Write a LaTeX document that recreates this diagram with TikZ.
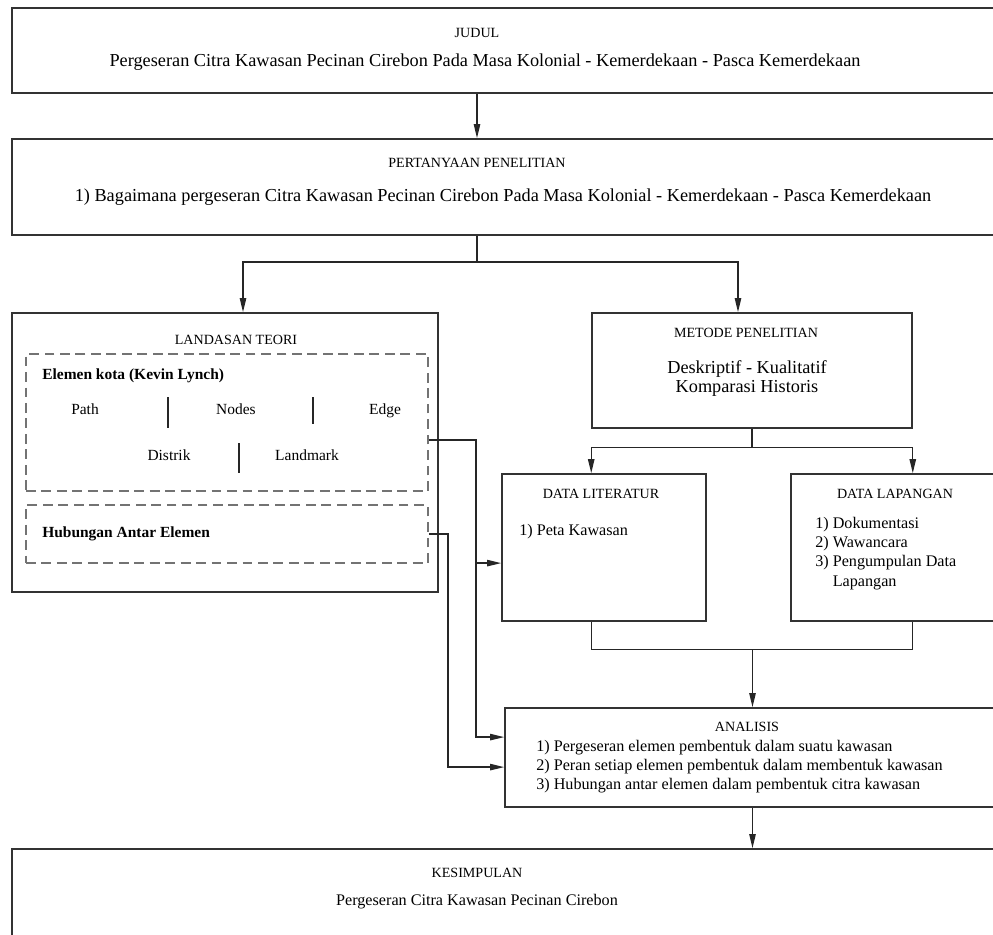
\documentclass[tikz,border=0pt]{standalone}
\usepackage{fontspec}
\setmainfont{Liberation Serif}
\usetikzlibrary{arrows.meta}

\tikzset{
	kotak/.style 2 args={shape=rectangle, draw=black!80, line width=1.1pt, minimum width=#1*0.025cm, minimum height=#2*0.025cm, inner sep=0pt},
	putus/.style 2 args={kotak={#1}{#2}, draw=black!55, line width=1.3pt, dash pattern=on 7pt off 4pt},
	kepala/.style={font=\fontsize{10}{12}\selectfont, inner sep=0pt},
	besar/.style={font=\fontsize{13}{13.6}\selectfont, inner sep=0pt, align=center},
	sedang/.style={font=\fontsize{11.5}{13.6}\selectfont, inner sep=0pt, align=left},
	elemen/.style={font=\fontsize{11}{13}\selectfont, inner sep=0pt},
	panah/.style={-{Triangle[length=10pt,width=4.5pt]}, line width=1pt, draw=black!85},
	garis/.style={line width=1pt, draw=black!85},
}

\begin{document}
\begin{tikzpicture}[x=0.025cm, y=-0.025cm]
	\useasboundingbox (0,0) rectangle (993,934);
	
	\node[kotak={988}{85}] (judul) at (506, 50.5) {};
	\node[kotak={988}{96}] (tanya) at (506, 187) {};
	\node[kotak={426}{279}] (landasan) at (225, 452.5) {};
	\node[putus={402}{137}] (elemen) at (227, 422.5) {};
	\node[putus={402}{58}] (hubungan) at (227, 534) {};
	\node[kotak={320}{115}] (metode) at (752, 370.5) {};
	\node[kotak={204}{147}] (datalit) at (604, 547.5) {};
	\node[kotak={209}{147}] (datalap) at (895.5, 547.5) {};
	\node[kotak={495}{99}] (analisis) at (752.5, 757.5) {};
	\node[kotak={988}{96}] (kesimpulan) at (506, 897) {};
	
	\node[kepala] (hjudul) at (477, 33) {JUDUL};
	\node[besar] (tjudul) at (485, 62) {Pergeseran Citra Kawasan Pecinan Cirebon Pada Masa Kolonial - Kemerdekaan - Pasca Kemerdekaan};
	\node[kepala] (htanya) at (477, 163) {PERTANYAAN PENELITIAN};
	\node[besar] (ttanya) at (503, 197) {1) Bagaimana pergeseran Citra Kawasan Pecinan Cirebon Pada Masa Kolonial - Kemerdekaan - Pasca Kemerdekaan};
	\node[kepala] (hlandasan) at (236, 340) {LANDASAN TEORI};
	\node[elemen, font=\fontsize{11}{13}\bfseries, anchor=west] (telemen) at (42, 376) {Elemen kota (Kevin Lynch)};
	\node[elemen] (path) at (85, 409) {Path};
	\node[elemen] (nodes) at (236, 409) {Nodes};
	\node[elemen] (edge) at (385, 411) {Edge};
	\node[elemen] (distrik) at (169, 455) {Distrik};
	\node[elemen] (landmark) at (307, 455) {Landmark};
	\node[elemen, font=\fontsize{11}{13}\bfseries, anchor=west] (thubungan) at (42, 534) {Hubungan Antar Elemen};
	\node[kepala] (hmetode) at (746, 333) {METODE PENELITIAN};
	\node[besar] (tmetode) at (747, 378.5) {Deskriptif - Kualitatif\\Komparasi Historis};
	\node[kepala] (hdatalit) at (601, 494) {DATA LITERATUR};
	\node[sedang, anchor=west] (tdatalit) at (519, 532) {1) Peta Kawasan};
	\node[kepala] (hdatalap) at (895, 494) {DATA LAPANGAN};
	\node[sedang, anchor=west] (tdatalap) at (815, 553.5) {1) Dokumentasi\\2) Wawancara\\3) Pengumpulan Data\\\phantom{3)~}Lapangan};
	\node[kepala] (hanalisis) at (747, 727) {ANALISIS};
	\node[sedang, anchor=west] (tanalisis) at (536, 766.5) {1) Pergeseran elemen pembentuk dalam suatu kawasan\\2) Peran setiap elemen pembentuk dalam membentuk kawasan\\3) Hubungan antar elemen dalam pembentuk citra kawasan};
	\node[kepala] (hkesimpulan) at (477, 873) {KESIMPULAN};
	\node[sedang] (tkesimpulan) at (477, 902) {Pergeseran Citra Kawasan Pecinan Cirebon};
	
	\draw[garis] (168, 397) -- (168, 428);
	\draw[garis] (313, 397) -- (313, 424);
	\draw[garis] (239, 443) -- (239, 473);
	
	\coordinate (cabang1) at (477, 262);
	\coordinate (keluar1) at ([yshift=-0.44cm]elemen.east);
	\coordinate (masuk1) at ([yshift=0.51cm]analisis.west);
	\coordinate (masuk2) at ([yshift=-0.24cm]analisis.west);
	\coordinate (masuklit) at ([yshift=-0.39cm]datalit.west);
	
	\draw[panah] (hjudul |- judul.south) -- (hjudul |- tanya.north);
	\draw[garis] (htanya |- tanya.south) -- (cabang1);
	\draw[panah] (cabang1) -| ([xshift=0.45cm]landasan.north);
	\draw[panah] (cabang1) -| ([xshift=-0.35cm]metode.north);
	\draw[garis] (metode.south) -- ++(0, 19) coordinate (cabang2);
	\draw[panah] (cabang2) -| (metode.south west |- datalit.north);
	\draw[panah] (cabang2) -| (metode.south east |- datalap.north);
	\draw[garis] (metode.south west |- datalit.south) -- ++(0, 28) coordinate (gabung1) -| (metode.south east |- datalap.south);
	\draw[panah] (gabung1 -| analisis.north) -- (analisis.north);
	\draw[panah] (analisis.south) -- (analisis.south |- kesimpulan.north);
	\draw[panah] (keluar1) -- ++(47, 0) coordinate (sudut1) |- (masuk1);
	\draw[panah] (sudut1 |- masuklit) -- (masuklit);
	\draw[panah] (hubungan.east) -- ++(19, 0) |- (masuk2);
	
\end{tikzpicture}
\end{document}
